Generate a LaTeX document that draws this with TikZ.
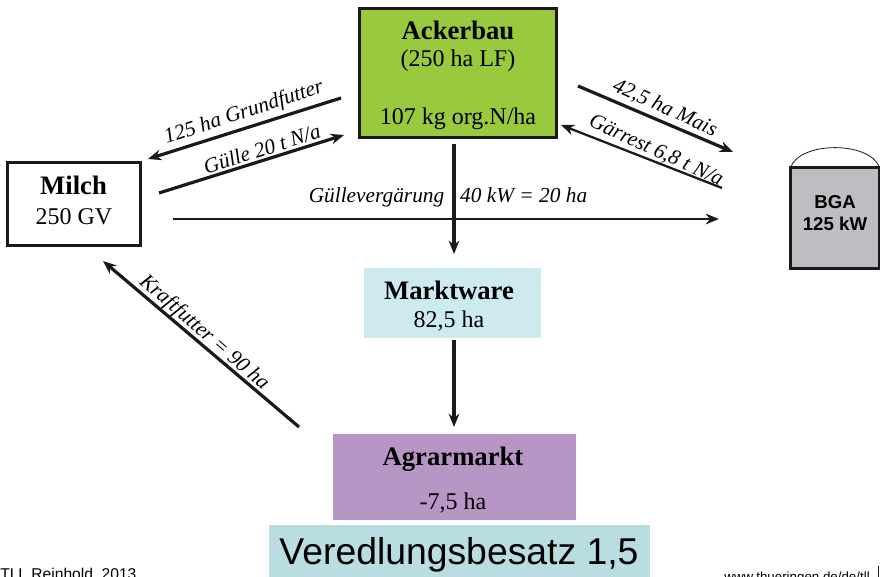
\documentclass[tikz,border=0pt]{standalone}
\usepackage{fontspec}
\setmainfont{Liberation Serif}
\setsansfont{Liberation Sans}
\usetikzlibrary{arrows.meta}
\definecolor{ackergreen}{HTML}{99C93C}
\definecolor{marktblue}{HTML}{CDEAEF}
\definecolor{agrarviolet}{HTML}{B795C4}
\definecolor{besatzblue}{HTML}{B9DDE0}
\definecolor{bgagray}{HTML}{BDBEC1}
\definecolor{linedark}{HTML}{1A1A1A}
\tikzset{
  px/.style={x=0.75pt,y=-0.75pt},
  box/.style={minimum width=#1*0.75pt,inner sep=0pt,outer sep=0pt,align=center},
  flow/.style={draw=linedark,line width=2.4pt,-{Stealth[length=10pt,width=8pt]}},
  thinflow/.style={draw=linedark,line width=1.7pt,-{Stealth[length=10pt,width=8pt]}},
  flowlabel/.style={font=\fontsize{16}{18}\selectfont\itshape,inner sep=0pt},
  titletext/.style={font=\fontsize{20}{24}\selectfont\bfseries,inner sep=0pt},
  bodytext/.style={font=\fontsize{18}{22}\selectfont,inner sep=0pt}
}
\begin{document}
\begin{tikzpicture}[px]
\useasboundingbox (0,0) rectangle (880,577);
% boxes
\node[box=197,minimum height=129.5*0.75pt,fill=ackergreen,draw=linedark,line width=1.9pt] (acker) at (458,73) {};
\node[box=133,minimum height=83*0.75pt,fill=white,draw=linedark,line width=1.6pt] (milch) at (74,204) {};
\node[box=177,minimum height=70*0.75pt,fill=marktblue] (markt) at (452,303) {};
\node[box=243,minimum height=86*0.75pt,fill=agrarviolet] (agrar) at (454.5,477) {};
\node[box=381,minimum height=52*0.75pt,fill=besatzblue] (besatz) at (459.5,551) {};
\node[box=89,minimum height=101*0.75pt,fill=bgagray,draw=linedark,line width=1.6pt] (bga) at (835,218) {};
% texts
\node[titletext] (t1) at (458,30) {Ackerbau};
\node[bodytext] (t2) at (458,61) {(250 ha LF)};
\node[bodytext] (t3) at (458,119) {107 kg org.N/ha};
\node[titletext] (t4) at (73.5,185) {Milch};
\node[bodytext] (t5) at (74,217) {250 GV};
\node[titletext] (t6) at (449,290) {Marktware};
\node[bodytext] (t7) at (449,321) {82,5 ha};
\node[titletext] (t8) at (453,459) {Agrarmarkt};
\node[bodytext] (t9) at (453,503) {-7,5 ha};
\node[font=\sffamily\fontsize{28}{32}\selectfont,inner sep=0pt] (t10) at (459,555) {Veredlungsbesatz 1,5};
\node[font=\sffamily\bfseries\fontsize{14}{17}\selectfont,align=center,inner sep=0pt] (t11) at (835,213) {BGA\\125 kW};
\node[font=\sffamily\fontsize{11.7}{14}\selectfont,anchor=west,inner sep=0pt] (t12) at (0,575) {TLL Reinhold, 2013};
\node[font=\sffamily\fontsize{10}{12}\selectfont,anchor=east,inner sep=0pt] (t13) at (870,578) {www.thueringen.de/de/tll};
\coordinate (marks) at (878,566);
\coordinate (marke) at (878,577);
\draw[linedark,line width=0.6pt] (marks) -- (marke);
% dome of the BGA
\draw[linedark,line width=0.6pt] (bga.north west) .. controls (800,141) and (870,141) .. (bga.north east);
% free ends
\coordinate (g1s) at (341,98);
\coordinate (g1e) at (148,159);
\coordinate (g2s) at (159,193);
\coordinate (g2e) at (344,135);
\coordinate (m1s) at (578,86);
\coordinate (m1e) at (733,152);
\coordinate (m2s) at (722,188);
\coordinate (m2e) at (561,125);
\coordinate (vs) at (173,219);
\coordinate (ve) at (719,219);
\coordinate (as) at (454,144);
\coordinate (ae) at (454,254);
\coordinate (ms) at (454,340);
\coordinate (me) at (454,427);
\coordinate (ks) at (299,427);
\coordinate (ke) at (103,261);
\draw[flow] (g1s) -- (g1e);
\draw[flow] (g2s) -- (g2e);
\draw[flow] (m1s) -- (m1e);
\draw[thinflow] (m2s) -- (m2e);
\draw[thinflow] (vs) -- (ve);
\draw[flow] (as) -- (ae);
\draw[flow] (ms) -- (me);
\draw[flow] (ks) -- (ke);
% flow labels
\node[flowlabel,rotate=18] (l1) at (244,113) {125 ha Grundfutter};
\node[flowlabel,rotate=18] (l2) at (262,149) {Gülle 20 t N/a};
\node[flowlabel,rotate=-24.5] (l3) at (665,108) {42,5 ha Mais};
\node[flowlabel,rotate=-24.5] (l4) at (656,151) {Gärrest 6,8 t N/a};
\node[flowlabel] (l5) at (448,197) {Güllevergärung\hspace{0.75em}40 kW = 20 ha};
\node[flowlabel,rotate=-41] (l6) at (204,333) {Kraftfutter = 90 ha};
\end{tikzpicture}
\end{document}
